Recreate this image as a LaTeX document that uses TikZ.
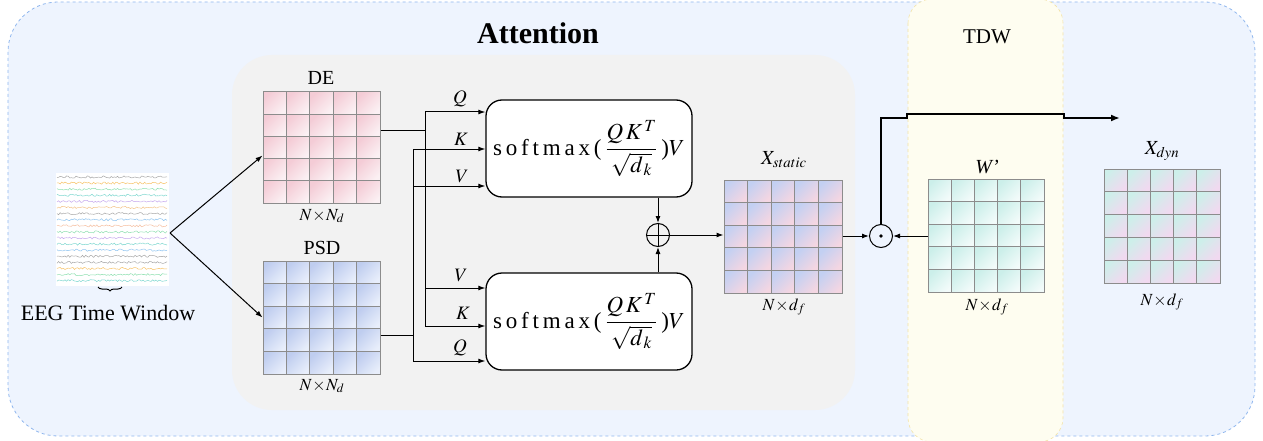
\documentclass[tikz,border=0pt]{standalone}
\usepackage{mathptmx}
\usepackage{fontspec}
\setmainfont{Liberation Serif}
\usetikzlibrary{arrows.meta,decorations.pathreplacing,calc}
\definecolor{outerfill}{HTML}{EEF4FE}
\definecolor{outerline}{HTML}{8FB6EE}
\definecolor{panelgray}{HTML}{F2F2F2}
\definecolor{tdwfill}{HTML}{FEFDF0}
\definecolor{tdwline}{HTML}{F3E3A6}
\definecolor{gridgray}{HTML}{8C8C8C}
\definecolor{dea}{HTML}{F4CCD6}\definecolor{deb}{HTML}{FBF0F3}
\definecolor{psda}{HTML}{BFCDEF}\definecolor{psdb}{HTML}{E8EEFB}
\definecolor{xsa}{HTML}{C3D0F2}\definecolor{xsb}{HTML}{F4D6E2}
\definecolor{wpa}{HTML}{CCEFEA}\definecolor{wpb}{HTML}{F2FBFA}
\definecolor{xda}{HTML}{CDEFEA}\definecolor{xdb}{HTML}{F1D9F0}
\definecolor{e1}{HTML}{A8A8A8}\definecolor{e2}{HTML}{F7C46A}\definecolor{e3}{HTML}{8EE0B0}
\definecolor{e4}{HTML}{7FD8D0}\definecolor{e5}{HTML}{C6A8EE}\definecolor{e6}{HTML}{F4C48A}
\definecolor{e7}{HTML}{8FC4F0}\definecolor{e8}{HTML}{F6BFA0}
\newcommand{\cellgrid}[7]{%
  \foreach \i in {0,...,4}{\foreach \j in {0,...,4}{%
    \shade[left color=#6, right color=#7, shading angle=45]
      ({#2+(#4-#2)*\i/5},{#3+(#5-#3)*\j/5}) rectangle ({#2+(#4-#2)*(\i+1)/5},{#3+(#5-#3)*(\j+1)/5});
  }}
  \foreach \k in {1,...,4}{%
    \draw[gridgray, line width=1pt] ({#2+(#4-#2)*\k/5},#3) -- ({#2+(#4-#2)*\k/5},#5);
    \draw[gridgray, line width=1pt] (#2,{#3+(#5-#3)*\k/5}) -- (#4,{#3+(#5-#3)*\k/5});
  }
  \node[draw=gridgray, line width=1pt, inner sep=0pt, minimum width={(#4-#2)*1pt}, minimum height={(#5-#3)*1pt}] (#1) at ({(#2+#4)/2},{(#3+#5)/2}) {};
}
\newcommand{\attformula}{\fontsize{23}{26}\selectfont s\,o\,f\,t\,m\,a\,x\,(\,$\displaystyle\frac{Q\,K^{\,T}}{\sqrt{d_{\,k}}}$\,)$V$}
\begin{document}
\begin{tikzpicture}[x=1pt,y=-1pt,
  conn/.style={line width=1pt, black},
  arr/.style={line width=1pt, black, -{Latex[length=7pt,width=5pt]}},
  attbox/.style={draw, line width=1.3pt, fill=white, rounded corners=16pt, minimum width=206pt, minimum height=97pt, inner sep=0pt},
  lbl/.style={font=\fontsize{20}{23}\selectfont},
  dimlbl/.style={font=\fontsize{17}{19}\selectfont},
  qkv/.style={font=\fontsize{19}{21}\selectfont\itshape},
  opcirc/.style={draw, line width=1pt, circle, minimum size=23pt, inner sep=0pt}]
\useasboundingbox (0,0) rectangle (1263,441);
% background panels
\fill[outerfill, draw=outerline, dashed, line width=0.8pt, rounded corners=50pt] (8,2) rectangle (1255,436);
\fill[panelgray, rounded corners=40pt] (232,55) rectangle (855,410);
\filldraw[fill=tdwfill, draw=tdwline, dashed, line width=0.6pt, rounded corners=24pt] (908,-1) rectangle (1063,442);
\node[font=\fontsize{30}{34}\selectfont\bfseries] (atttitle) at (538,33) {Attention};
\node[font=\fontsize{21}{24}\selectfont] (tdwtitle) at (987,37) {TDW};
% EEG
\node[fill=white, minimum width=113pt, minimum height=113pt, inner sep=0pt] (eeg) at (112,229) {};
\foreach \c [count=\n from 0] in {e1,e2,e3,e4,e5,e6,e1,e7,e8,e3,e5,e4,e7,e1,e1,e2,e3,e4}{
  \draw[\c, line width=0.5pt] plot[domain=57:167, samples=70] (\x,{177+6.1*\n+1.1*rand});
}
\draw[line width=1pt, decorate, decoration={brace, mirror, amplitude=4pt}] (98,287) -- (122,287);
\node[font=\fontsize{22}{25}\selectfont] (eeglbl) at (108,313) {EEG Time Window};
% DE and PSD grids
\cellgrid{de}{263}{92}{380}{203}{dea}{deb}
\cellgrid{psd}{263}{261}{380}{374}{psda}{psdb}
\node[lbl] at (321,78) {DE};
\node[lbl] at (322,248) {PSD};
\node[dimlbl] at (322,216) {$N\!\times\! N_d$};
\node[dimlbl] at (322,386) {$N\!\times\! N_d$};
\coordinate (eegout) at (170,233);
\draw[arr] (eegout) -- ($(de.west)+(0,8)$);
\draw[arr] (eegout) -- ($(psd.west)+(0,0)$);
% attention boxes
\node[attbox] (att1) at (589,148.5) {\attformula};
\node[attbox] (att2) at (589,321.5) {\attformula};
% wiring
\coordinate (j1) at (425,131);
\coordinate (j2) at (413,335);
\draw[conn] (de.east |- j1) -- (j1);
\draw[conn] (psd.east |- j2) -- (j2);
\draw[conn] (425,112) -- (425,326);
\draw[conn] (413,149) -- (413,361);
\draw[arr] (425,112) -- (att1.west |- 0,112);
\draw[arr] (413,149) -- (att1.west |- 0,149);
\draw[arr] (413,186) -- (att1.west |- 0,186);
\draw[arr] (425,288) -- (att2.west |- 0,288);
\draw[arr] (425,326) -- (att2.west |- 0,326);
\draw[arr] (413,361) -- (att2.west |- 0,361);
\node[qkv] at (460,99) {$Q$};
\node[qkv] at (461,139) {$K$};
\node[qkv] at (462,176) {$V$};
\node[qkv] at (461,275) {$V$};
\node[qkv] at (463,313) {$K$};
\node[qkv] at (460,348) {$Q$};
% plus
\node[opcirc] (plus) at (658,235) {};
\draw[line width=1pt] (plus.north) -- (plus.south) (plus.west) -- (plus.east);
\draw[arr] (att1.south -| plus) -- (plus.north);
\draw[arr] (att2.north -| plus) -- (plus.south);
% X static
\cellgrid{xs}{724}{180}{842}{293}{xsa}{xsb}
\node[lbl] at (784,160) {$X_{static}$};
\node[dimlbl] at (784,307) {$N\!\times\! d_f$};
\draw[arr] (plus.east) -- (xs.west |- plus);
% odot
\node[opcirc] (odot) at (881,236) {};
\fill (odot.center) circle (1.8pt);
\draw[arr] (xs.east |- odot) -- (odot.west);
% W'
\cellgrid{wp}{928}{179}{1044}{292}{wpa}{wpb}
\node[lbl] at (987,167) {\itshape W’};
\node[dimlbl] at (987,307) {$N\!\times\! d_f$};
\draw[arr] (wp.west |- odot) -- (odot.east);
% output path
\coordinate (outend) at (1120,118);
\draw[line width=1.8pt, -{Latex[length=9pt,width=7pt]}] (odot.north) -- (881,118) -- (907,118) -- (907,114) -- (1064,114) -- (1064,118) -- (outend);
% X dyn
\cellgrid{xd}{1104}{169}{1220}{283}{xda}{xdb}
\node[lbl] at (1162,151) {$X_{dyn}$};
\node[dimlbl] at (1162,302) {$N\!\times\! d_f$};
\end{tikzpicture}
\end{document}
